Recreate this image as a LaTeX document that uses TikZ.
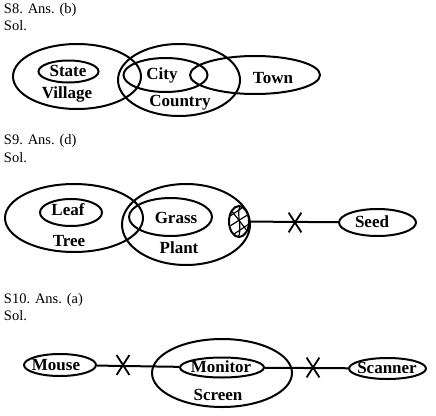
\documentclass[tikz,border=0pt]{standalone}
\usepackage{fontspec}
\setmainfont{Liberation Serif}
\usetikzlibrary{shapes.geometric,shapes.misc}

\begin{document}
\begin{tikzpicture}[x=1pt, y=-1pt, line width=2pt,
  set/.style={draw, ellipse, inner sep=0pt},
  word/.style={font=\fontsize{17}{20}\selectfont\bfseries, inner sep=0pt},
  head/.style={anchor=base west, inner sep=0pt, font=\fontsize{14.5}{17}\selectfont},
  cut/.style={draw, cross out, line width=1.8pt, minimum width=11pt, minimum height=18pt, inner sep=0pt}]
  \useasboundingbox (0,0) rectangle (436,415);

  % S8
  \node[head] (h8) at (3,13) {S8. Ans. (b)};
  \node[head] (s8) at (3,30) {Sol.};
  \node[set, minimum width=128pt, minimum height=65pt] (village) at (77,76.5) {};
  \node[set, minimum width=60pt, minimum height=22pt] (state) at (68.5,71.5) {};
  \node[set, minimum width=122pt, minimum height=72pt] (country) at (179,80) {};
  \node[set, minimum width=84pt, minimum height=34pt] (city) at (165.5,75) {};
  \node[set, minimum width=130pt, minimum height=38pt] (town) at (255,75) {};
  \node[word] (stateT) at (68,71) {State};
  \node[word] (villageT) at (67,94) {Village};
  \node[word] (cityT) at (162,75) {City};
  \node[word] (countryT) at (180,103) {Country};
  \node[word] (townT) at (273,78) {Town};

  % S9
  \node[head] (h9) at (3,144) {S9. Ans. (d)};
  \node[head] (s9) at (3,162) {Sol.};
  \node[set, minimum width=138pt, minimum height=68pt] (tree) at (74,218) {};
  \node[set, minimum width=62pt, minimum height=27pt] (leaf) at (71,212.5) {};
  \node[set, minimum width=128pt, minimum height=81pt] (plant) at (186,224.5) {};
  \node[set, minimum width=83pt, minimum height=38pt] (grass) at (170.5,217) {};
  \node[set, minimum width=20pt, minimum height=31pt] (stem) at (239,221.5) {};
  \begin{scope}[line width=1.2pt]
    \clip (239,221.5) ellipse (9 and 14.5);
    \draw (240,206) .. controls (236,215) and (243,228) .. (238,238);
    \draw (230,216) -- (248,204);
    \draw (230,226) -- (249,214);
    \draw (231,236) -- (249,224);
    \draw (231,210) -- (248,232);
  \end{scope}
  \node[set, minimum width=77pt, minimum height=27pt] (seed) at (377.5,222.5) {};
  \draw (stem) -- (seed);
  \node[cut] (cut9) at (295,222.5) {};
  \node[word] (leafT) at (68,210) {Leaf};
  \node[word] (treeT) at (69,241) {Tree};
  \node[word] (grassT) at (176,218) {Grass};
  \node[word] (plantT) at (179,248) {Plant};
  \node[word] (seedT) at (372,222) {Seed};

  % S10
  \node[head] (h10) at (3,303) {S10. Ans. (a)};
  \node[head] (s10) at (3,320) {Sol.};
  \node[set, minimum width=72pt, minimum height=22pt] (mouse) at (60,365) {};
  \node[set, minimum width=140pt, minimum height=68pt] (screen) at (222,373) {};
  \node[set, minimum width=84pt, minimum height=20pt] (monitor) at (222,367.5) {};
  \node[set, minimum width=77pt, minimum height=21pt] (scanner) at (387.5,368.5) {};
  \draw (mouse) -- (monitor);
  \draw (monitor) -- (scanner);
  \node[cut] (cut10a) at (123,365) {};
  \node[cut] (cut10b) at (313,367.5) {};
  \node[word] (mouseT) at (56,365) {Mouse};
  \node[word] (monitorT) at (221,367) {Monitor};
  \node[word] (screenT) at (218,395) {Screen};
  \node[word] (scannerT) at (387,368) {Scanner};
\end{tikzpicture}
\end{document}
